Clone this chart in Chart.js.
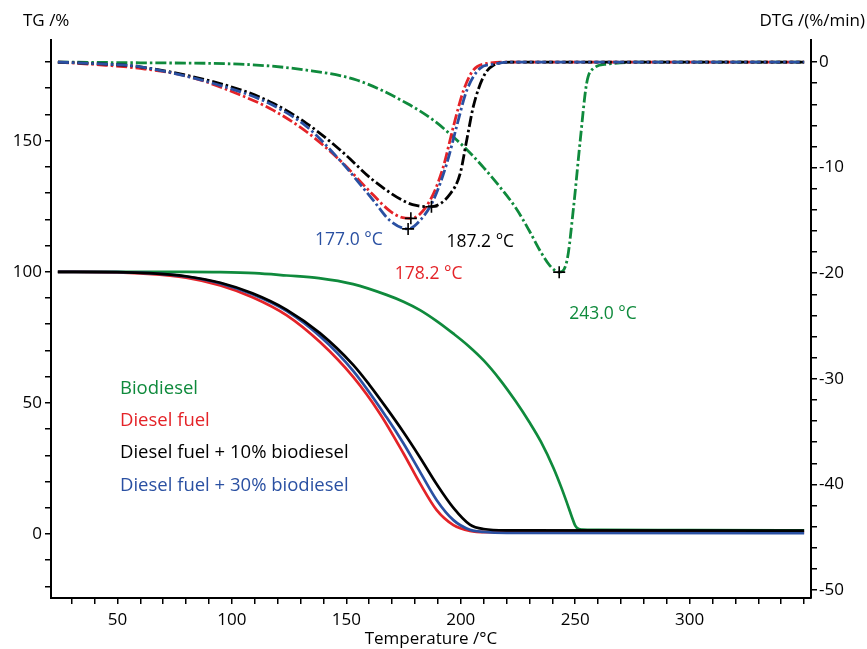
<!DOCTYPE html>
<html>
<head>
<meta charset="utf-8">
<script src="https://cdn.jsdelivr.net/npm/chart.js@4.4.1/dist/chart.umd.min.js"></script>
<style>
  html, body { margin: 0; padding: 0; background: #fff; }
  canvas { display: block; }
</style>
</head>
<body>
<canvas id="tgChart" width="867" height="649"></canvas>
<script>
// --- data ---
const seriesNames = ['Biodiesel', 'Diesel fuel', 'Diesel fuel + 10% biodiesel', 'Diesel fuel + 30% biodiesel'];
const seriesColors = ['#0f8a3c', '#e42328', '#000000', '#2a50a2'];
const axisTitles = ['TG /%', 'DTG /(%/min)', 'Temperature /°C'];

const xLabels = [50, 100, 150, 200, 250, 300];
const tgLabels = [0, 50, 100, 150];
const dtgLabels = [0, -10, -20, -30, -40, -50];

// TG (solid, left axis)
const tgGreenT = [24, 80, 95, 110, 124, 138, 153, 167.6, 175, 182.2, 189.5, 196.8, 203, 210, 217, 224, 230, 235, 240.5, 244, 246.5, 248.5, 250, 251.5, 253, 260, 300, 350];
const tgGreen  = [100, 100, 99.9, 99.5, 98.6, 97.6, 95.3, 91.2, 88.6, 85.4, 81.2, 76.4, 72, 66.2, 59, 50.6, 42.6, 35.2, 25.2, 17.6, 11.6, 6.6, 3.2, 1.9, 1.7, 1.6, 1.5, 1.4];
const tgRedT = [24, 50, 60, 80, 95, 109, 124, 138.5, 153, 164.7, 175, 182.2, 189.5, 196.8, 204, 212, 230, 350];
const tgRed  = [100, 99.8, 99.4, 97.8, 94.8, 90.3, 83.4, 73.2, 59.9, 45.9, 30.7, 19.3, 9.1, 3.4, 1.2, 0.7, 0.6, 0.6];
const tgBlackT = [24, 50, 64, 80, 95, 109, 124, 138.5, 153, 160, 167.6, 175, 182.2, 189.5, 196.8, 204, 210, 220, 350];
const tgBlack  = [100, 99.9, 99.5, 98.3, 95.8, 91.8, 85.5, 76.6, 64.5, 57, 48, 38.8, 29.2, 19, 10, 3.6, 1.9, 1.4, 1.3];
const tgBlueT = [24, 50, 64, 80, 95, 109, 124, 138.5, 153, 167.6, 175, 182.2, 189.5, 196.8, 204, 210, 220, 350];
const tgBlue  = [100, 99.9, 99.5, 98.2, 95.6, 91.4, 85.0, 75.4, 62.2, 44.5, 34.5, 23.7, 12.9, 5.3, 1.6, 0.8, 0.4, 0.3];

// DTG (dash-dot, right axis)
const dtgGreenT = [24, 60, 103.5, 132.6, 154.5, 176.4, 188, 196.8, 202.7, 210, 217, 224, 230, 235, 239, 243, 246.4, 249.3, 252.2, 255, 258, 264, 280, 350];
const dtgGreen  = [0, -0.07, -0.2, -0.76, -1.7, -3.9, -5.5, -7.1, -8.3, -10, -11.8, -13.8, -16.0, -18.0, -19.3, -19.9, -18.8, -13.7, -7.4, -2.0, -0.6, -0.2, 0, 0];
const dtgRedT = [24, 45, 60, 81.6, 103.5, 118, 132.6, 147.2, 161.8, 169, 174, 178.2, 182.2, 188, 192.4, 196.8, 201.2, 205.5, 211.4, 220, 350];
const dtgRed  = [0, -0.3, -0.6, -1.4, -3.1, -4.55, -6.6, -9.3, -12.6, -14.1, -14.7, -14.8, -14.4, -12.5, -9.9, -6.1, -2.7, -0.76, -0.13, 0, 0];
const dtgBlackT = [24, 45, 60, 103.5, 118, 132.6, 147.2, 161.8, 176.4, 181, 187.2, 195.3, 199.7, 202.6, 205.5, 209.9, 214.3, 222, 350];
const dtgBlack  = [0, -0.2, -0.45, -2.6, -3.9, -5.8, -8.3, -11.2, -13.3, -13.6, -13.7, -12.5, -10.6, -7.4, -4.2, -1.4, -0.3, 0, 0];
const dtgBlueT = [24, 45, 60, 103.5, 118, 132.6, 147.2, 161.8, 169, 177.0, 182.2, 188, 193.9, 198.2, 202.6, 208.4, 214.3, 222, 350];
const dtgBlue  = [0, -0.2, -0.45, -2.8, -4.1, -6.1, -9.3, -13.1, -15.0, -15.8, -15.0, -13.1, -9.6, -6.1, -2.7, -0.6, -0.2, 0, 0];

// DTG peaks (green, red, black, blue)
const peakTemps = [243.0, 178.2, 187.2, 177.0];
const peakDtg   = [-19.9, -14.8, -13.7, -15.8];

const pts = (xs, ys) => xs.map((x, i) => ({ x: x, y: ys[i] }));

Chart.defaults.font.family = "'Open Sans', 'DejaVu Sans', sans-serif";
Chart.defaults.color = '#000';

// axis titles, legend text and peak labels
const overlay = {
    id: 'overlay',
    afterDatasetsDraw(chart) {
        const { ctx, chartArea, scales } = chart;
        ctx.save();
        ctx.font = "17px 'Open Sans'";
        ctx.fillStyle = '#000';
        ctx.textBaseline = 'middle';
        ctx.textAlign = 'left';
        ctx.fillText(axisTitles[0], 23, 21);
        ctx.textAlign = 'right';
        ctx.fillText(axisTitles[1], 865, 21);
        ctx.textAlign = 'center';
        ctx.fillText(axisTitles[2], (chartArea.left + chartArea.right) / 2, 639);

        // legend inside the plot
        ctx.font = "18.5px 'Open Sans'";
        ctx.textAlign = 'left';
        ctx.textBaseline = 'alphabetic';
        seriesNames.forEach((name, i) => {
            ctx.fillStyle = seriesColors[i];
            ctx.fillText(name, 120, 394 + i * 32.2);
        });

        // peak temperatures
        const offs = [[10, 47], [-16, 61], [15, 40], [-93, 16]];
        ctx.font = "17.5px 'Open Sans'";
        peakTemps.forEach((t, i) => {
            const px = scales.x.getPixelForValue(t);
            const py = scales.y1.getPixelForValue(peakDtg[i]);
            ctx.fillStyle = seriesColors[i];
            ctx.fillText(t.toFixed(1) + ' °C', px + offs[i][0], py + offs[i][1]);
        });
        ctx.restore();
    }
};

const tgSet = (i, xs, ys) => ({
    label: seriesNames[i] + ' TG',
    data: pts(xs, ys),
    borderColor: seriesColors[i],
    borderWidth: 2.7,
    pointRadius: 0,
    cubicInterpolationMode: 'monotone',
    yAxisID: 'y'
});
const dtgSet = (i, xs, ys) => ({
    label: seriesNames[i] + ' DTG',
    data: pts(xs, ys),
    borderColor: seriesColors[i],
    borderWidth: 2.8,
    borderDash: [11, 3, 2.5, 3],
    pointRadius: 0,
    cubicInterpolationMode: 'monotone',
    yAxisID: 'y1'
});

const stepTicks = (from, to, step) => {
    const out = [];
    for (let v = from; v <= to + 1e-9; v += step) out.push({ value: Math.round(v * 100) / 100 });
    return out;
};

const axisGrid = { drawOnChartArea: false, drawTicks: true, tickLength: 6, color: '#000', lineWidth: 1.5 };
const axisBorder = { display: true, color: '#000', width: 2 };

new Chart(document.getElementById('tgChart'), {
    type: 'line',
    data: {
        datasets: [
            {
                label: 'Peaks',
                data: pts(peakTemps, peakDtg),
                showLine: false,
                pointStyle: 'cross',
                pointRadius: 6,
                pointBorderColor: '#000',
                pointBorderWidth: 1.6,
                yAxisID: 'y1'
            },
            dtgSet(3, dtgBlueT, dtgBlue),
            dtgSet(2, dtgBlackT, dtgBlack),
            dtgSet(1, dtgRedT, dtgRed),
            dtgSet(0, dtgGreenT, dtgGreen),
            tgSet(2, tgBlackT, tgBlack),
            tgSet(3, tgBlueT, tgBlue),
            tgSet(1, tgRedT, tgRed),
            tgSet(0, tgGreenT, tgGreen)
        ]
    },
    options: {
        responsive: false,
        animation: false,
        devicePixelRatio: 1,
        layout: { padding: { top: 40, left: 0, right: 0, bottom: 0 } },
        plugins: { legend: { display: false }, tooltip: { enabled: false } },
        scales: {
            x: {
                type: 'linear', position: 'bottom', min: 21, max: 353,
                border: axisBorder, grid: axisGrid,
                ticks: { autoSkip: false, maxRotation: 0, padding: 6, font: { size: 17 },
                    callback: v => xLabels.includes(v) ? String(v) : '' },
                afterBuildTicks: s => { s.ticks = stepTicks(30, 350, 10); },
                afterFit: s => { s.height = 51; }
            },
            y: {
                type: 'linear', position: 'left', min: -24.4, max: 188.4,
                border: axisBorder, grid: axisGrid,
                ticks: { autoSkip: false, padding: 3, font: { size: 17 },
                    callback: v => tgLabels.includes(v) ? String(v) : '' },
                afterBuildTicks: s => { s.ticks = stepTicks(-20, 180, 10); },
                afterFit: s => { s.width = 51; }
            },
            y1: {
                type: 'linear', position: 'right', min: -50.76, max: 2.09,
                border: axisBorder, grid: axisGrid,
                ticks: { autoSkip: false, padding: 2, font: { size: 17 },
                    callback: v => dtgLabels.includes(v) ? String(v) : '' },
                afterBuildTicks: s => { s.ticks = stepTicks(-50, 0, 2); },
                afterFit: s => { s.width = 56; }
            }
        }
    },
    plugins: [overlay]
});
</script>
</body>
</html>
